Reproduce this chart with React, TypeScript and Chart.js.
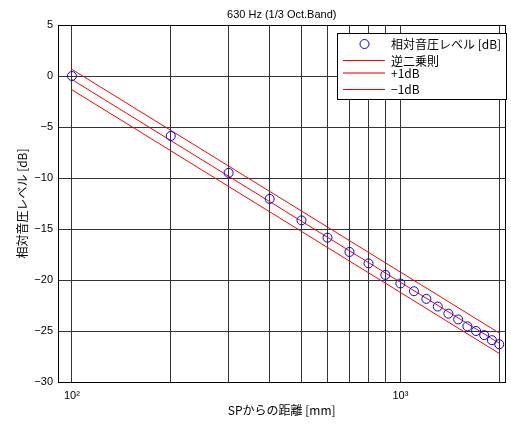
import React, { useEffect, useRef } from 'react';
import { Chart, registerables } from 'chart.js';

Chart.register(...registerables);

// ---- data ----
const distances = [100, 200, 300, 400, 500, 600, 700, 800, 900, 1000, 1100, 1200, 1300, 1400, 1500, 1600, 1700, 1800, 1900, 2000];
const measuredLevels = [0, -5.88, -9.5, -12.05, -14.15, -15.85, -17.25, -18.37, -19.5, -20.34, -21.1, -21.85, -22.6, -23.3, -23.87, -24.54, -25.0, -25.4, -25.9, -26.3];

const lawDistances = [100, 2000];
const lawCenter = [-0.35, -26.2];
const lawPlus = [0.65, -25.2];
const lawMinus = [-1.35, -27.2];

const xTickValues = [100, 200, 300, 400, 500, 600, 700, 800, 900, 1000, 2000];
const xTickLabels: Record<number, string> = { 100: '10²', 1000: '10³' };
const yMin = -30;
const yMax = 5;
const yStep = 5;

const titleText = '630 Hz (1/3 Oct.Band)';
const xTitle = 'SPからの距離 [mm]';
const yTitle = '相対音圧レベル [dB]';
const legendLabels = ['相対音圧レベル [dB]', '逆二乗則', '+1dB', '−1dB'];

const JP = '"Noto Sans CJK JP", "Liberation Sans", sans-serif';
const NUM = '"Liberation Sans", "DejaVu Sans", sans-serif';

const decorPlugin = {
  id: 'decor',
  afterDraw(chart: any) {
    const { ctx, chartArea } = chart;
    const { left, right, top, bottom } = chartArea;
    ctx.save();
    // frame
    ctx.strokeStyle = '#000';
    ctx.lineWidth = 1;
    ctx.strokeRect(Math.round(left) + 0.5, Math.round(top) + 0.5, Math.round(right - left) - 1, Math.round(bottom - top));

    // title
    ctx.fillStyle = '#000';
    ctx.textAlign = 'center';
    ctx.textBaseline = 'middle';
    ctx.font = `11px ${NUM}`;
    ctx.fillText(titleText, (left + right) / 2, 15);

    // x title
    ctx.font = `12px ${JP}`;
    ctx.fillText(xTitle, (left + right) / 2, 410);

    // y title
    ctx.save();
    ctx.translate(22, (top + bottom) / 2);
    ctx.rotate(-Math.PI / 2);
    ctx.fillText(yTitle, 0, 0);
    ctx.restore();

    // legend
    const bx = 337, by = 33, bw = 169, bh = 66;
    ctx.fillStyle = '#fff';
    ctx.fillRect(bx, by, bw, bh);
    ctx.strokeStyle = '#000';
    ctx.lineWidth = 1;
    ctx.strokeRect(bx + 0.5, by + 0.5, bw, bh);

    const rows = [44, 60.5, 72.5, 89];
    // marker
    ctx.beginPath();
    ctx.strokeStyle = '#0000ff';
    ctx.lineWidth = 1;
    ctx.arc(364.5, rows[0], 4.5, 0, Math.PI * 2);
    ctx.stroke();
    // legend line samples (filled rects so the colour stays solid red)
    ctx.fillStyle = '#ff0000';
    ctx.fillRect(343, 60, 42, 1);
    ctx.fillStyle = 'rgba(255,0,0,0.55)';
    ctx.fillRect(343, 72, 42, 2);
    ctx.fillStyle = '#ff0000';
    ctx.fillRect(343, 89, 42, 1);

    ctx.textAlign = 'left';
    ctx.textBaseline = 'middle';
    ctx.font = `12px ${JP}`;
    ctx.fillStyle = '#000';
    legendLabels.forEach((t, i) => ctx.fillText(t, 391, rows[i] + 0.5));
    ctx.restore();
  },
};

export default function App() {
  const ref = useRef<HTMLCanvasElement | null>(null);

  useEffect(() => {
    document.body.style.margin = '0';
    const canvas = ref.current;
    if (!canvas) return;
    const line = (ys: number[]) => ({
      data: lawDistances.map((x, i) => ({ x, y: ys[i] })),
      showLine: true,
      borderColor: '#ff0000',
      borderWidth: 1,
      pointRadius: 0,
      fill: false,
    });
    const chart = new Chart(canvas, {
      type: 'scatter',
      data: {
        datasets: [
          {
            data: distances.map((x, i) => ({ x, y: measuredLevels[i] })),
            showLine: false,
            pointRadius: 4.5,
            pointBorderColor: '#0000ff',
            pointBackgroundColor: 'rgba(0,0,0,0)',
            pointBorderWidth: 1,
          } as any,
          line(lawCenter),
          line(lawPlus),
          line(lawMinus),
        ],
      },
      options: {
        responsive: false,
        animation: false,
        events: [],
        layout: { padding: { left: 0, right: 2, top: 25, bottom: 0 } },
        plugins: {
          legend: { display: false },
          tooltip: { enabled: false },
          title: { display: false },
        },
        scales: {
          x: {
            type: 'logarithmic',
            min: 90.7,
            max: 2090,
            afterBuildTicks: (s: any) => {
              s.ticks = xTickValues.map((v) => ({ value: v }));
            },
            afterFit: (s: any) => {
              s.height = 42;
            },
            grid: { color: '#333', lineWidth: 1, drawTicks: false },
            border: { color: '#000', width: 1 },
            ticks: {
              autoSkip: false,
              maxRotation: 0,
              padding: 7,
              color: '#000',
              font: { family: NUM, size: 11 },
              callback: (v: any) => xTickLabels[Number(v)] ?? '',
            },
          },
          y: {
            min: yMin,
            max: yMax,
            afterFit: (s: any) => {
              s.width = 58;
            },
            grid: { color: '#333', lineWidth: 1, drawTicks: false },
            border: { color: '#000', width: 1 },
            ticks: {
              stepSize: yStep,
              padding: 5,
              color: '#000',
              font: { family: NUM, size: 11 },
              callback: (v: any) => (Number(v) < 0 ? '−' + Math.abs(Number(v)) : String(v)),
            },
          },
        },
      } as any,
      plugins: [decorPlugin],
    });
    return () => chart.destroy();
  }, []);

  return <canvas ref={ref} width={511} height={424} style={{ display: 'block' }} />;
}
